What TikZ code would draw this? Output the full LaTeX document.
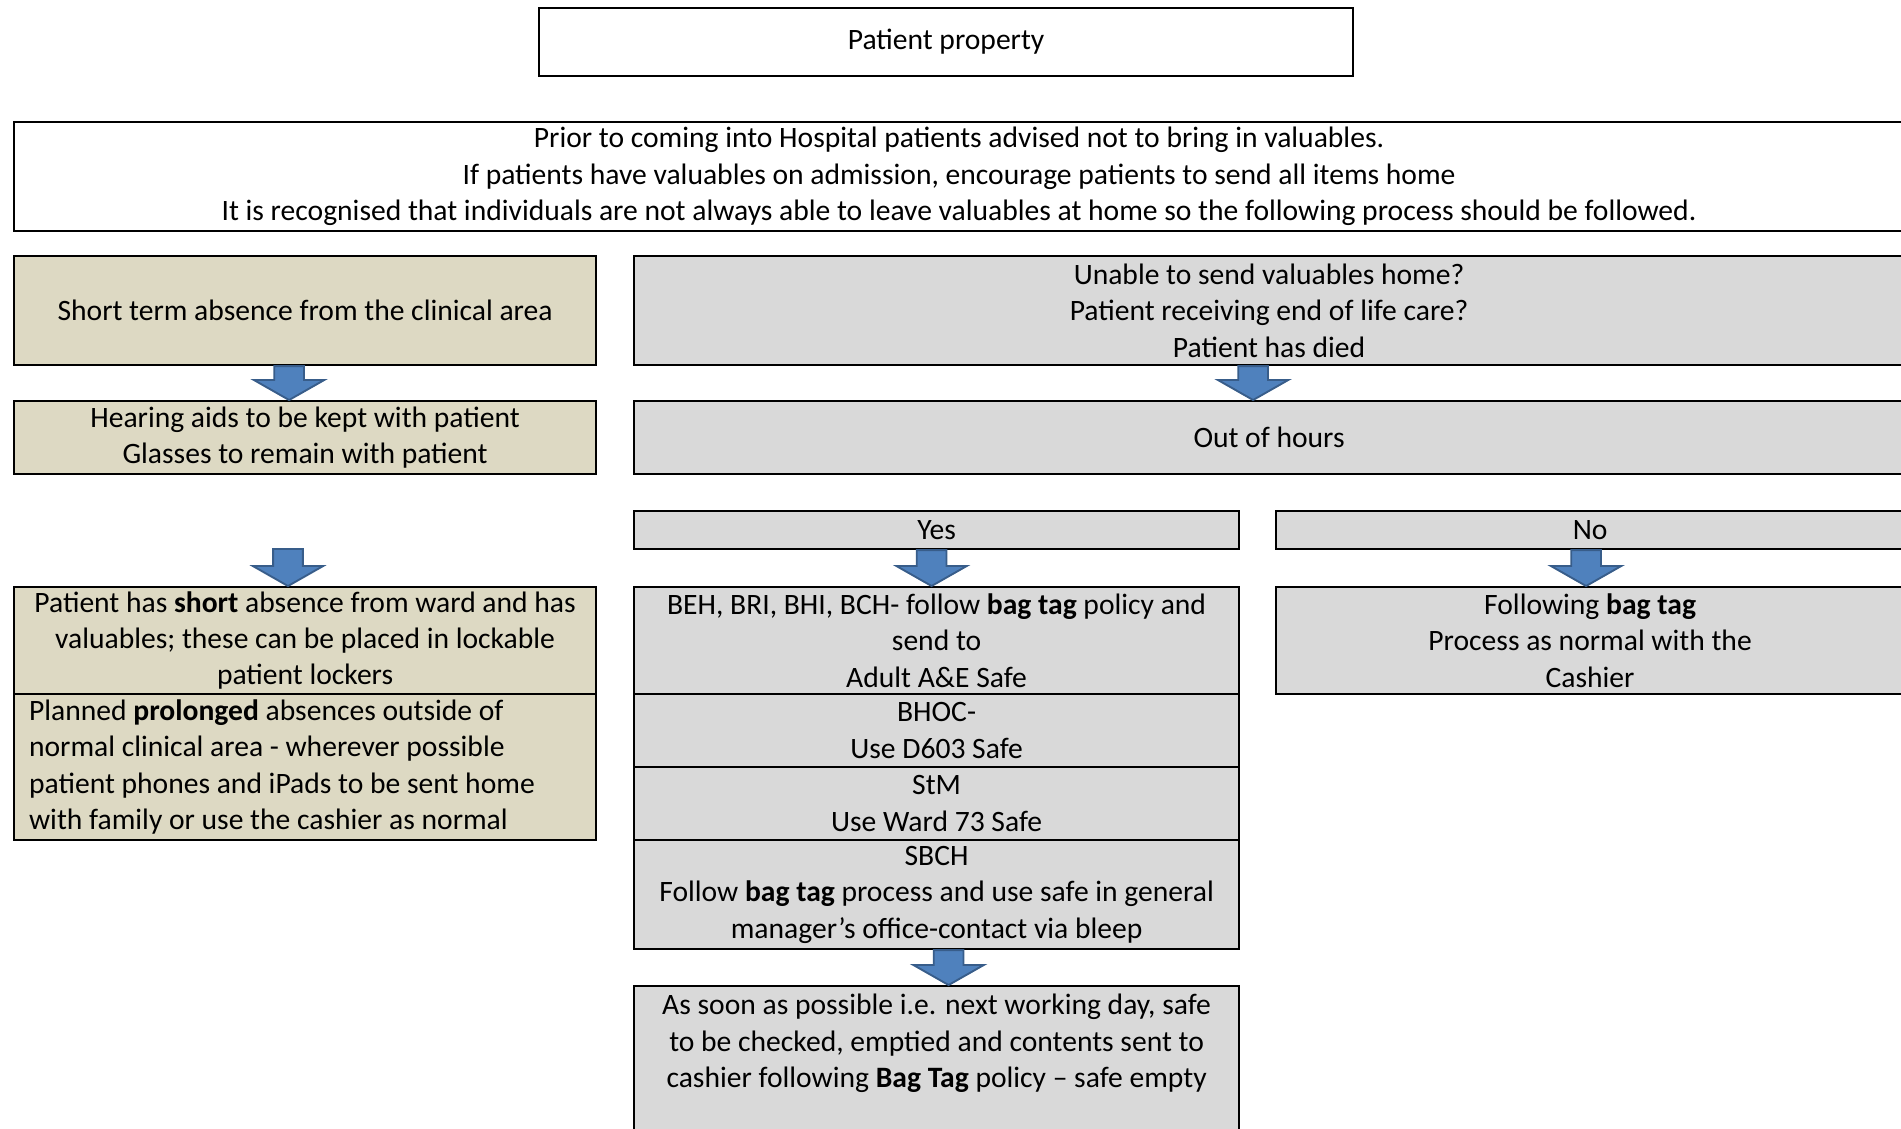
\documentclass[tikz,border=0pt]{standalone}
\usepackage{fontspec}
\setmainfont{Carlito}
\usetikzlibrary{calc}

\definecolor{tanfill}{HTML}{DDD9C3}
\definecolor{greyfill}{HTML}{D9D9D9}
\definecolor{arrowblue}{HTML}{4F81BD}
\definecolor{arrowedge}{HTML}{385D8A}

\newcommand\px{0.37pt}
% block arrow from #1 to #2, moved sideways by #3
\newcommand\blockarrow[3]{%
  \draw[bigarrow] let \p1=($(#1)+(#3,0)$), \p2=($(#2)+(#3,0)$) in
    (\x1-5.5pt,\y1) -- (\x1+5.5pt,\y1) -- (\x1+5.5pt,\y2+7.4pt) -- (\x1+13pt,\y2+7.4pt)
    -- (\x1,\y2) -- (\x1-13pt,\y2+7.4pt) -- (\x1-5.5pt,\y2+7.4pt) -- cycle;}

\begin{document}
\begin{tikzpicture}[
        x=\px, y=-\px, % one unit = one pixel, y runs down
        box/.style = {draw, line width=0.8pt, anchor=north west, inner sep=0pt, align=center,
                      font=\fontsize{10.95}{13.45}\selectfont},
        tanbox/.style = {box, fill=tanfill},
        greybox/.style = {box, fill=greyfill},
        bigarrow/.style = {fill=arrowblue, draw=arrowedge, line width=0.7pt, line join=miter},
    ]
    \useasboundingbox (0,0) rectangle (1901,1128);

    % top
    \node[box, minimum width=814*\px, minimum height=68*\px] (title) at (538,7) {Patient property};
    \node[box, minimum width=1890*\px, minimum height=109*\px] (intro) at (13,121)
        {Prior to coming into Hospital patients advised not to bring in valuables.\\
         If patients have valuables on admission, encourage patients to send all items home\\
         It is recognised that individuals are not always able to leave valuables at home so the following process should be followed.};

    % left column
    \node[tanbox, minimum width=582*\px, minimum height=109*\px] (short) at (13,255)
        {Short term absence from the clinical area};
    \node[tanbox, minimum width=582*\px, minimum height=73*\px] (hear) at (13,400)
        {Hearing aids to be kept with patient\\ Glasses to remain with patient};
    \node[tanbox, minimum width=582*\px, minimum height=107*\px] (lock) at (13,586)
        {Patient has \textbf{short} absence from ward and has\\ valuables; these can be placed in lockable\\ patient lockers};
    \node[tanbox, minimum width=582*\px, minimum height=146*\px, align=flush left,
          text width=552*\px, inner xsep=15*\px] (prolong) at (13,693)
        {Planned \textbf{prolonged} absences outside of\\ normal clinical area - wherever possible\\
         patient phones and iPads to be sent home\\ with family or use the cashier as normal};
    \coordinate (lgap) at (304,549);

    % right column
    \node[greybox, minimum width=1270*\px, minimum height=109*\px] (unable) at (633,255)
        {Unable to send valuables home?\\ Patient receiving end of life care?\\ Patient has died};
    \node[greybox, minimum width=1270*\px, minimum height=73*\px] (ooh) at (633,400) {Out of hours};
    \node[greybox, minimum width=605*\px, minimum height=38*\px] (yes) at (633,510) {Yes};
    \node[greybox, minimum width=628*\px, minimum height=38*\px] (no) at (1275,510) {No};
    \node[greybox, minimum width=605*\px, minimum height=107*\px] (beh) at (633,586)
        {BEH, BRI, BHI, BCH- follow \textbf{bag tag} policy and\\ send to\\ Adult A\&E Safe};
    \node[greybox, minimum width=605*\px, minimum height=73*\px] (bhoc) at (633,693)
        {BHOC-\\ Use D603 Safe};
    \node[greybox, minimum width=605*\px, minimum height=73*\px] (stm) at (633,766)
        {StM\\ Use Ward 73 Safe};
    \node[greybox, minimum width=605*\px, minimum height=109*\px] (sbch) at (633,839)
        {SBCH\\ Follow \textbf{bag tag} process and use safe in general\\ manager’s office-contact via bleep};
    \node[greybox, minimum width=605*\px, minimum height=146*\px] (final) at (633,985)
        {As soon as possible i.e. next working day, safe\\ to be checked, emptied and contents sent to\\
         cashier following \textbf{Bag Tag} policy – safe empty\\ ~};
    \node[greybox, minimum width=628*\px, minimum height=107*\px] (follow) at (1275,586)
        {Following \textbf{bag tag}\\ Process as normal with the\\ Cashier};

    % arrows
    \blockarrow{short.south}{hear.north}{-16}
    \blockarrow{lgap}{lock.north}{-16}
    \blockarrow{unable.south}{ooh.north}{-16}
    \blockarrow{yes.south}{beh.north}{-5}
    \blockarrow{no.south}{follow.north}{-4}
    \blockarrow{sbch.south}{final.north}{12}
\end{tikzpicture}
\end{document}
